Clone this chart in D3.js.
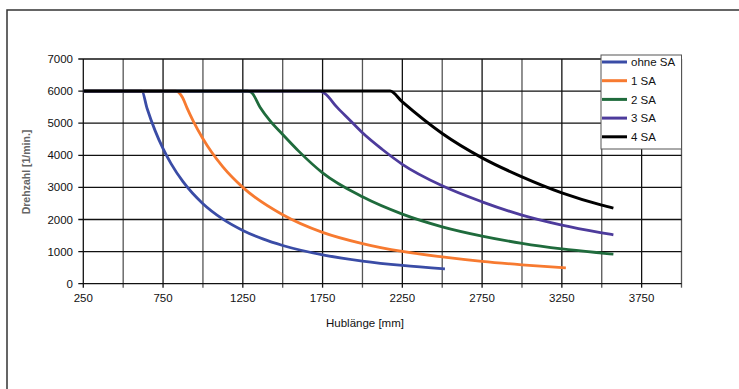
<!DOCTYPE html>
<html><head><meta charset="utf-8">
<script src="https://cdn.jsdelivr.net/npm/d3@7"></script>
<style>body{margin:0;background:#fff}svg{display:block}text{font-family:"Liberation Sans",Arial,sans-serif}</style>
</head><body>
<svg id="c" width="739" height="389"></svg>
<script>
const seriesNames = ["ohne SA","1 SA","2 SA","3 SA","4 SA"];
const seriesColors = ["#3a4ca6","#f77a30","#1f6b3c","#4d3b9c","#000000"];
const blueX = [250,617,650,700,750,800,875,1000,1125,1250,1375,1500,1750,2000,2250,2517];
const blueY = [6000,6000,5457,4769,4206,3740,3178,2491,2011,1660,1396,1191,900,706,569,464];
const orangeX = [250,830,872,900,940,1000,1055,1125,1250,1500,1750,2000,2250,2500,2750,3000,3275];
const orangeY = [6000,6000,5800,5477,5057,4517,4094,3640,3001,2150,1600,1250,1005,835,695,588,492];
const greenX = [250,1280,1306,1358,1420,1500,1600,1750,2000,2250,2500,2750,3000,3250,3500,3573];
const greenY = [6000,6000,5950,5500,5080,4650,4130,3453,2706,2168,1773,1484,1257,1085,955,920];
const purpleX = [250,1734,1765,1840,1920,2000,2125,2250,2500,2750,3000,3250,3500,3573];
const purpleY = [6000,6000,5920,5500,5100,4700,4180,3720,3050,2551,2137,1826,1587,1524];
const blackX = [250,2173,2250,2500,2750,3000,3250,3500,3573];
const blackY = [6000,6000,5661,4678,3920,3328,2830,2448,2355];
const xTickLabels = [250,750,1250,1750,2250,2750,3250,3750];
const yTickLabels = [0,1000,2000,3000,4000,5000,6000,7000];
const xTitle = "Hublänge [mm]";
const yTitle = "Drehzahl [1/min.]";

const svg = d3.select("#c");
const x = d3.scaleLinear().domain([250,4000]).range([83.3,681.5]);
const y = d3.scaleLinear().domain([0,7000]).range([283.7,59]);

// outer frame
svg.append("path").attr("d","M7,389 L7,10 L739,10").attr("fill","none").attr("stroke","#333").attr("stroke-width",1.5);

// gridlines
const xGrid = d3.range(250,4001,250);
svg.append("g").selectAll("line").data(xGrid).join("line")
  .attr("x1",d=>x(d)).attr("x2",d=>x(d)).attr("y1",y(7000)).attr("y2",y(0)+4)
  .attr("stroke",(d,i)=>i%2?"#555":"#111").attr("stroke-width",1.3);
svg.append("g").selectAll("line").data(yTickLabels).join("line")
  .attr("x1",x(250)-5).attr("x2",x(4000)).attr("y1",d=>y(d)).attr("y2",d=>y(d))
  .attr("stroke","#111").attr("stroke-width",1.3);

// tick labels
svg.append("g").selectAll("text").data(yTickLabels).join("text")
  .attr("x",73).attr("y",d=>y(d)).attr("dy","0.35em").attr("text-anchor","end")
  .attr("font-size",11.5).attr("fill","#111").text(d=>d);
svg.append("g").selectAll("text").data(xTickLabels).join("text")
  .attr("x",d=>x(d)).attr("y",302).attr("text-anchor","middle")
  .attr("font-size",11.5).attr("fill","#111").text(d=>d);

svg.append("text").attr("x",365).attr("y",327).attr("text-anchor","middle")
  .attr("font-size",11.5).attr("fill","#111").text(xTitle);
svg.append("text").attr("transform","translate(30,172) rotate(-90)").attr("text-anchor","middle")
  .attr("font-size",10.5).attr("font-weight","bold").attr("fill","#666").text(yTitle);

// series
const data = [[blueX,blueY],[orangeX,orangeY],[greenX,greenY],[purpleX,purpleY],[blackX,blackY]];
const line = d3.line().x(d=>x(d[0])).y(d=>y(d[1])).curve(d3.curveMonotoneX);
data.forEach((s,i)=>{
  const pts = s[0].map((v,j)=>[v,s[1][j]]);
  svg.append("path").attr("d",line(pts)).attr("fill","none")
    .attr("stroke",seriesColors[i]).attr("stroke-width",i===4?3:2.8);
});

// legend
const lg = svg.append("g");
lg.append("rect").attr("x",601).attr("y",55).attr("width",80.5).attr("height",94)
  .attr("fill","#fff").attr("stroke","#555").attr("stroke-width",1);
seriesNames.forEach((n,i)=>{
  const yy = 62 + i*18.7;
  lg.append("line").attr("x1",602).attr("x2",627).attr("y1",yy).attr("y2",yy)
    .attr("stroke",seriesColors[i]).attr("stroke-width",3);
  lg.append("text").attr("x",631).attr("y",yy).attr("dy","0.38em")
    .attr("font-size",11.5).attr("fill","#111").text(n);
});
</script>
</body></html>
